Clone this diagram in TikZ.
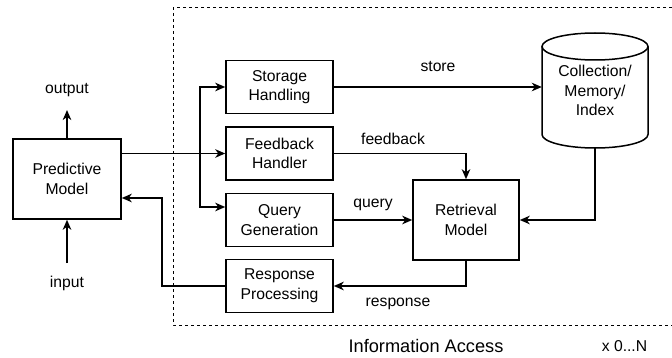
\documentclass[tikz,border=0pt]{standalone}
\usepackage{fontspec}
\setmainfont{Liberation Sans}
\usetikzlibrary{arrows.meta,calc}
\begin{document}
\begin{tikzpicture}[x=1pt,y=-1pt,
  txt/.style={font=\fontsize{15.7}{19.6}\selectfont, inner sep=0pt, align=center},
  box/.style={txt, draw, line width=1.5pt, minimum width=107pt, minimum height=53pt},
  bigbox/.style={txt, draw, line width=1.5pt, minimum width=107pt, minimum height=80pt},
  arr/.style={line width=1.5pt, -{Stealth[length=10pt,width=8.5pt,inset=3pt]}},
  ln/.style={line width=1.5pt},
  frame/.style={line width=1pt, dash pattern=on 3pt off 3pt}]
\useasboundingbox (0,0) rectangle (672,358);
% frame
\draw[frame] (672,8) -- (173,8) -- (173,325) -- (672,325);
\node[txt, font=\fontsize{18.2}{22}\selectfont] (ia) at (426,346) {Information Access};
\node[txt] (xn) at (624.5,346) {x 0...N};
% nodes
\node[bigbox, minimum width=108pt] (pm) at (67,179) {Predictive\\Model};
\node[box] (sto) at (279.5,87) {Storage\\Handling};
\node[box] (fb) at (279.5,153.5) {Feedback\\Handler};
\node[box] (qg) at (279.5,220) {Query\\Generation};
\node[box] (rp) at (279.5,286) {Response\\Processing};
\node[bigbox, minimum width=106pt] (ret) at (466,220) {Retrieval\\Model};
\node[txt, minimum width=106pt, minimum height=115pt] (cyl) at (595,90.5) {Collection/\\Memory/\\Index};
\draw[ln] (542,46.5) -- (542,134.5) arc (180:360:53pt and 13.5pt) -- (648,46.5);
\draw[ln] (595,46.5) ellipse (53pt and 13.5pt);
% labels
\node[txt] (outl) at (67,90) {output};
\node[txt] (inl) at (67,283) {input};
\node[txt] (storel) at (438,67) {store};
\node[txt] (fbl) at (393,139) {feedback};
\node[txt] (ql) at (373,205) {query};
\node[txt] (rl) at (398,304) {response};
\coordinate (outtip) at (67,110);
\coordinate (intail) at (67,263);
\coordinate (br) at (200,153.5);
% connectors
\draw[arr] (pm.north) -- (outtip);
\draw[arr] (intail) -- (pm.south);
\draw[arr] (pm.east |- fb.west) -- (fb.west);
\draw[arr] (br) |- (sto.west);
\draw[arr] (br) |- ($(qg.west)+(0,-13)$);
\draw[arr] (fb.east) -| (ret.north);
\draw[arr] (sto.east) -- (sto.east -| cyl.west);
\draw[arr] (qg.east) -- (ret.west);
\draw[arr] (cyl.south) |- (ret.east);
\draw[arr] (ret.south) |- (rp.east);
\draw[arr] (rp.west) -| ($(pm.east)+(40,19)$) -- ($(pm.east)+(0,19)$);
\end{tikzpicture}
\end{document}
